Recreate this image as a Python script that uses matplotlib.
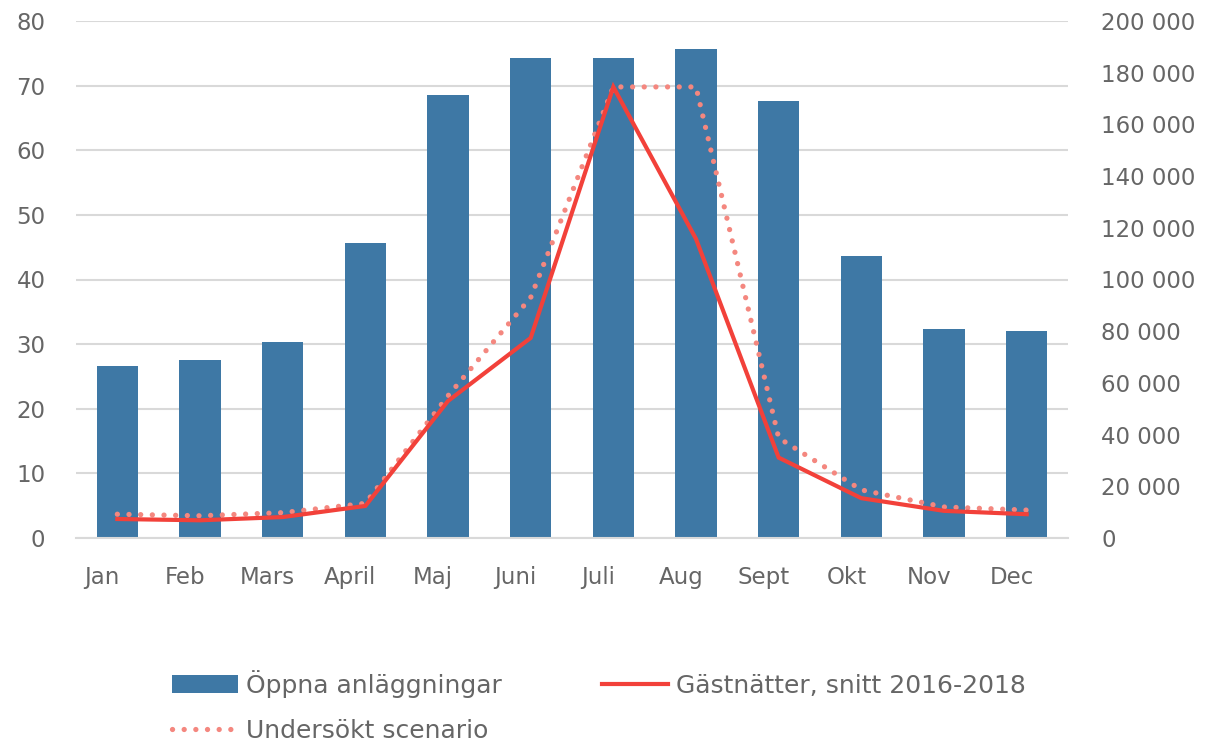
import matplotlib
matplotlib.use("Agg")
import matplotlib.pyplot as plt
import matplotlib.transforms as mtransforms
from matplotlib.ticker import FuncFormatter, MultipleLocator
import numpy as np

months = ["Jan", "Feb", "Mars", "April", "Maj", "Juni", "Juli", "Aug", "Sept", "Okt", "Nov", "Dec"]
open_facilities = [26.6, 27.6, 30.3, 45.6, 68.6, 74.3, 74.3, 75.6, 67.6, 43.6, 32.3, 32.0]
guest_nights = [7350, 6850, 8100, 12400, 53000, 77400, 174500, 115700, 31100, 15400, 10500, 9200]
scenario = [9200, 8600, 9800, 13400, 55000, 93000, 174500, 174500, 38700, 18600, 12000, 10800]

plt.rcParams['font.family'] = ['DejaVu Sans']
text_color = "#666666"
bar_color = "#3E78A5"
line_color = "#F2413A"
dot_color = "#F4877F"
grid_color = "#D9D9D9"

fig = plt.figure(figsize=(12.07, 7.46), dpi=100)
ax = fig.add_axes([76/1207, 1-538/746, (1068-76)/1207, (538-21)/746])
ax2 = ax.twinx()

x = np.arange(len(months))
bars = ax.bar(x, open_facilities, width=0.5, color=bar_color, zorder=2,
              label="Öppna anläggningar")
ax.set_xlim(-0.5, len(months) - 0.5)
ax.set_ylim(0, 80)
ax.yaxis.set_major_locator(MultipleLocator(10))
ax.grid(axis='y', color=grid_color, linewidth=1.5, zorder=0)
ax.set_axisbelow(True)

l1, = ax2.plot(x, guest_nights, color=line_color, linewidth=3.0, zorder=4,
               label="Gästnätter, snitt 2016-2018", solid_joinstyle='miter')
l2, = ax2.plot(x, scenario, color=dot_color, linewidth=3.8, linestyle=(0, (0.01, 2.2)),
               dash_capstyle='round', zorder=3, label="Undersökt scenario")
ax2.set_ylim(0, 200000)
ax2.yaxis.set_major_locator(MultipleLocator(20000))
ax2.yaxis.set_major_formatter(FuncFormatter(lambda v, p: f"{int(v):,}".replace(",", " ")))

for a in (ax, ax2):
    for s in a.spines.values():
        s.set_visible(False)
    a.tick_params(length=0, labelsize=16.5, labelcolor=text_color)

ax.spines['bottom'].set_visible(True)
ax.spines['bottom'].set_color(grid_color)
ax.spines['bottom'].set_linewidth(1.5)

ax.set_xticks(x)
ax.set_xticklabels(months)
ax.tick_params(axis='x', pad=20)
ax.tick_params(axis='y', pad=22)
ax2.tick_params(axis='y', pad=24)
offset = mtransforms.ScaledTranslation(-15/100, 0, fig.dpi_scale_trans)
for lbl in ax.get_xticklabels():
    lbl.set_transform(lbl.get_transform() + offset)

ax2.set_zorder(ax.get_zorder() + 1)
ax2.patch.set_visible(False)

handles = [bars, l2, l1]
fig.legend(handles, [h.get_label() for h in handles],
           loc='upper left', bbox_to_anchor=(172/1207, 1-670/746), ncol=2,
           frameon=False, fontsize=18, labelcolor=text_color,
           handlelength=2.65, handletextpad=0.32, columnspacing=4.0,
           labelspacing=0.85, borderaxespad=0, borderpad=0)

fig.savefig("out.png", dpi=100, facecolor="white")
